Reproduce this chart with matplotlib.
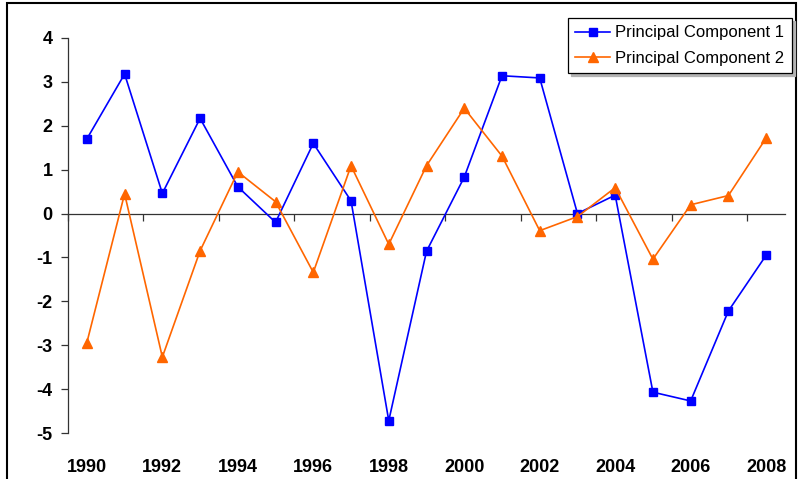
import matplotlib.pyplot as plt
import matplotlib.patches as patches
import numpy as np

plt.rcParams['font.family'] = ['Liberation Sans', 'DejaVu Sans']

years = list(range(1990, 2009))
pc1 = [1.70, 3.18, 0.46, 2.17, 0.61, -0.20, 1.60, 0.29, -4.72, -0.86,
       0.83, 3.14, 3.09, 0.00, 0.42, -4.07, -4.27, -2.22, -0.95]
pc2 = [-2.94, 0.45, -3.27, -0.85, 0.95, 0.27, -1.34, 1.09, -0.70, 1.09,
       2.40, 1.31, -0.39, -0.07, 0.59, -1.04, 0.20, 0.41, 1.72]
names = ['Principal Component 1', 'Principal Component 2']
yticks = [4, 3, 2, 1, 0, -1, -2, -3, -4, -5]

W, H = 798, 479
fig = plt.figure(figsize=(W / 100, H / 100), dpi=100)
# axes box in pixels: left 68, right 785, top 38, bottom 433
ax = fig.add_axes([68 / W, 1 - 433 / H, (785 - 68) / W, (433 - 38) / H])

x = np.arange(len(years)) + 0.5
ax.plot(x, pc1, color='#0000FF', lw=1.2, marker='s', ms=6, label=names[0])
ax.plot(x, pc2, color='#FF6600', lw=1.2, marker='^', ms=7, label=names[1])

ax.set_xlim(0, len(years))
ax.set_ylim(-5, 4)
ax.set_yticks(yticks)
ax.set_yticklabels([str(v) for v in yticks], fontsize=13, fontweight='bold')
ax.tick_params(axis='y', length=5, width=0.9, pad=6, color='#333333')

for s in ['top', 'right', 'bottom']:
    ax.spines[s].set_visible(False)
ax.spines['left'].set_color('#333333')
ax.spines['left'].set_linewidth(0.9)

# year labels at bottom, no tick marks
ax.set_xticks(x[::2])
ax.set_xticklabels([str(y) for y in years[::2]], fontsize=13, fontweight='bold')
ax.tick_params(axis='x', length=0, pad=19)

# zero line with tick marks between categories
sec = ax.secondary_xaxis(5 / 9)
sec.set_alignment('bottom')
sec.set_xticks(np.arange(0, len(years), 2))
sec.set_xticklabels([])
sec.tick_params(axis='x', length=5, width=0.9, color='#333333', direction='out')
sec.spines['bottom'].set_color('#333333')
sec.spines['bottom'].set_linewidth(0.9)

leg = fig.legend(loc='upper right', bbox_to_anchor=(792 / W, 1 - 18 / H),
                 borderaxespad=0, fontsize=12, fancybox=False, edgecolor='black',
                 framealpha=1, handlelength=2.1, handletextpad=0.3,
                 labelspacing=0.6, borderpad=0.45,
                 shadow={'color': '0.7', 'alpha': 1})
leg.get_frame().set_linewidth(0.9)

# outer chart border
fig.patches.append(patches.Rectangle((7 / W, -0.05), (796 - 7) / W, 1.05 - 3 / H,
                                     transform=fig.transFigure, fill=False,
                                     edgecolor='black', lw=1.5))

fig.savefig('out.png', dpi=100)
